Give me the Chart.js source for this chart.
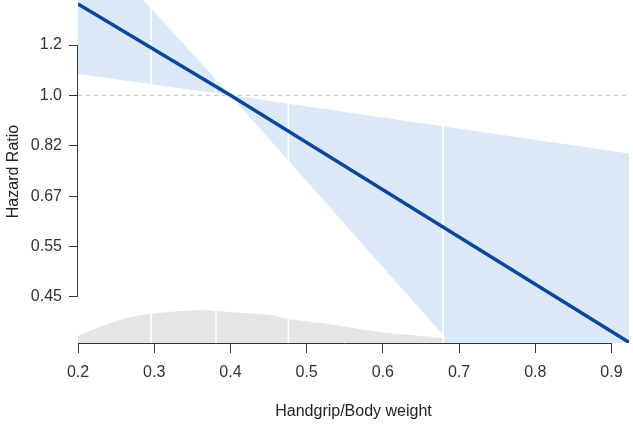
<!DOCTYPE html>
<html lang="en">
<head>
    <meta charset="UTF-8">
    <title>Handgrip/Body weight - Hazard Ratio</title>
    <script src="https://cdn.jsdelivr.net/npm/chart.js"></script>
    <style>
        body {
            margin: 0;
            background: #ffffff;
        }
        #wrap {
            width: 633px;
            height: 424px;
            position: relative;
        }
    </style>
</head>
<body>
    <div id="wrap"><canvas id="hrChart"></canvas></div>

    <script>
        // x axis
        const xMin = 0.2;
        const xMax = 0.923;
        const xTicks = [0.2, 0.3, 0.4, 0.5, 0.6, 0.7, 0.8, 0.9];

        // y axis (hazard ratio, log scale)
        const yMin = 0.374;
        const yMax = 1.46;
        const yTickValues = [0.449, 0.549, 0.670, 0.819, 1.0, 1.221];
        const yTickLabels = ['0.45', '0.55', '0.67', '0.82', '1.0', '1.2'];

        // fitted hazard ratio + confidence band
        const fitX = [0.2, 0.4, 0.923];
        const fitHR = [1.437, 1.0, 0.375];
        const ciUpper = [1.94, 1.0, 0.794];
        const ciLower = [1.088, 1.0, 0.168];

        // knot positions (white lines)
        const knots = [0.296, 0.381, 0.476, 0.679];

        // distribution of handgrip/body weight (relative density)
        const densX = [0.2, 0.233, 0.264, 0.294, 0.338, 0.364, 0.382, 0.417, 0.452, 0.476, 0.527, 0.57, 0.622, 0.679, 0.70, 0.75, 0.8, 0.86, 0.923];
        const densY = [0.21, 0.52, 0.76, 0.88, 0.97, 1.0, 0.97, 0.91, 0.85, 0.73, 0.58, 0.42, 0.27, 0.15, 0.08, 0.04, 0.02, 0.01, 0.005];

        const pts = (xs, ys) => xs.map((x, i) => ({ x: x, y: ys[i] }));

        // white knot lines only paint over the band and the density
        const knotClip = {
            id: 'knotClip',
            beforeDatasetDraw(chart, args) {
                if (chart.data.datasets[args.index].isKnot) {
                    chart.ctx.save();
                    chart.ctx.globalCompositeOperation = 'source-atop';
                }
            },
            afterDatasetDraw(chart, args) {
                if (chart.data.datasets[args.index].isKnot) {
                    chart.ctx.restore();
                }
            }
        };

        // R style axis lines, only between first and last tick
        const rAxes = {
            id: 'rAxes',
            afterDatasetsDraw(chart) {
                const { ctx, chartArea } = chart;
                const x = chart.scales.x;
                const y = chart.scales.y;
                ctx.save();
                ctx.strokeStyle = '#333';
                ctx.lineWidth = 1;
                const ax = Math.round(chartArea.left) - 0.5;
                const ay = Math.round(chartArea.bottom) + 0.5;
                ctx.beginPath();
                ctx.moveTo(ax, y.getPixelForValue(yTickValues[yTickValues.length - 1]));
                ctx.lineTo(ax, y.getPixelForValue(yTickValues[0]));
                ctx.moveTo(x.getPixelForValue(xTicks[0]), ay);
                ctx.lineTo(x.getPixelForValue(xTicks[xTicks.length - 1]), ay);
                ctx.stroke();
                ctx.restore();
            }
        };

        const knotSets = knots.map(k => ({
            isKnot: true,
            data: [{ x: k, y: yMin }, { x: k, y: yMax }],
            borderColor: '#ffffff',
            borderWidth: 1.6,
            pointRadius: 0,
            yAxisID: 'y',
            order: 2
        }));

        const font16 = { family: 'Liberation Sans, Arial, sans-serif', size: 16 };

        new Chart(document.getElementById('hrChart'), {
            type: 'line',
            data: {
                datasets: [
                    {
                        data: pts(fitX, fitHR),
                        borderColor: '#0b4799',
                        borderWidth: 3.5,
                        pointRadius: 0,
                        yAxisID: 'y',
                        order: 0
                    },
                    {
                        data: [{ x: xMin, y: 1.0 }, { x: xMax, y: 1.0 }],
                        borderColor: '#bdbdbd',
                        borderWidth: 1,
                        borderDash: [4, 4],
                        pointRadius: 0,
                        yAxisID: 'y',
                        order: 1
                    },
                    ...knotSets,
                    {
                        data: pts(fitX, ciUpper),
                        borderWidth: 0,
                        borderColor: 'rgba(0,0,0,0)',
                        backgroundColor: '#dbe8f6',
                        fill: '+1',
                        pointRadius: 0,
                        yAxisID: 'y',
                        order: 3
                    },
                    {
                        data: pts(fitX, ciLower),
                        borderWidth: 0,
                        borderColor: 'rgba(0,0,0,0)',
                        pointRadius: 0,
                        yAxisID: 'y',
                        order: 3
                    },
                    {
                        data: pts(densX, densY),
                        borderWidth: 0,
                        borderColor: 'rgba(0,0,0,0)',
                        backgroundColor: '#e5e5e5',
                        fill: 'origin',
                        tension: 0.3,
                        pointRadius: 0,
                        yAxisID: 'yd',
                        order: 4
                    }
                ]
            },
            options: {
                responsive: true,
                maintainAspectRatio: false,
                animation: false,
                events: [],
                layout: { padding: { top: 0, right: 4, bottom: 0, left: 0 } },
                plugins: {
                    legend: { display: false },
                    tooltip: { enabled: false }
                },
                scales: {
                    x: {
                        type: 'linear',
                        min: xMin,
                        max: xMax,
                        afterBuildTicks: s => { s.ticks = xTicks.map(v => ({ value: v })); },
                        afterFit: s => { s.height = 81; s.paddingLeft = 0; s.paddingRight = 0; },
                        border: { display: false },
                        grid: { drawOnChartArea: false, drawTicks: true, tickLength: 10, color: '#333' },
                        ticks: {
                            padding: 10,
                            color: '#333',
                            font: font16,
                            callback: v => v.toFixed(1)
                        },
                        title: {
                            display: true,
                            text: 'Handgrip/Body weight',
                            color: '#222',
                            font: font16,
                            padding: { top: 0, bottom: 3 }
                        }
                    },
                    y: {
                        type: 'logarithmic',
                        min: yMin,
                        max: yMax,
                        afterBuildTicks: s => { s.ticks = yTickValues.map(v => ({ value: v })); },
                        afterFit: s => { s.width = 78; s.paddingTop = 0; s.paddingBottom = 0; },
                        border: { display: false },
                        grid: { drawOnChartArea: false, drawTicks: true, tickLength: 9, color: '#333' },
                        ticks: {
                            padding: 7,
                            color: '#333',
                            font: font16,
                            callback: (v, i) => yTickLabels[i]
                        },
                        title: {
                            display: true,
                            text: 'Hazard Ratio',
                            color: '#222',
                            font: font16,
                            padding: { top: 4, bottom: 0 }
                        }
                    },
                    yd: {
                        type: 'linear',
                        display: false,
                        min: 0,
                        max: 10.4
                    }
                }
            },
            plugins: [knotClip, rAxes]
        });
    </script>
</body>
</html>
